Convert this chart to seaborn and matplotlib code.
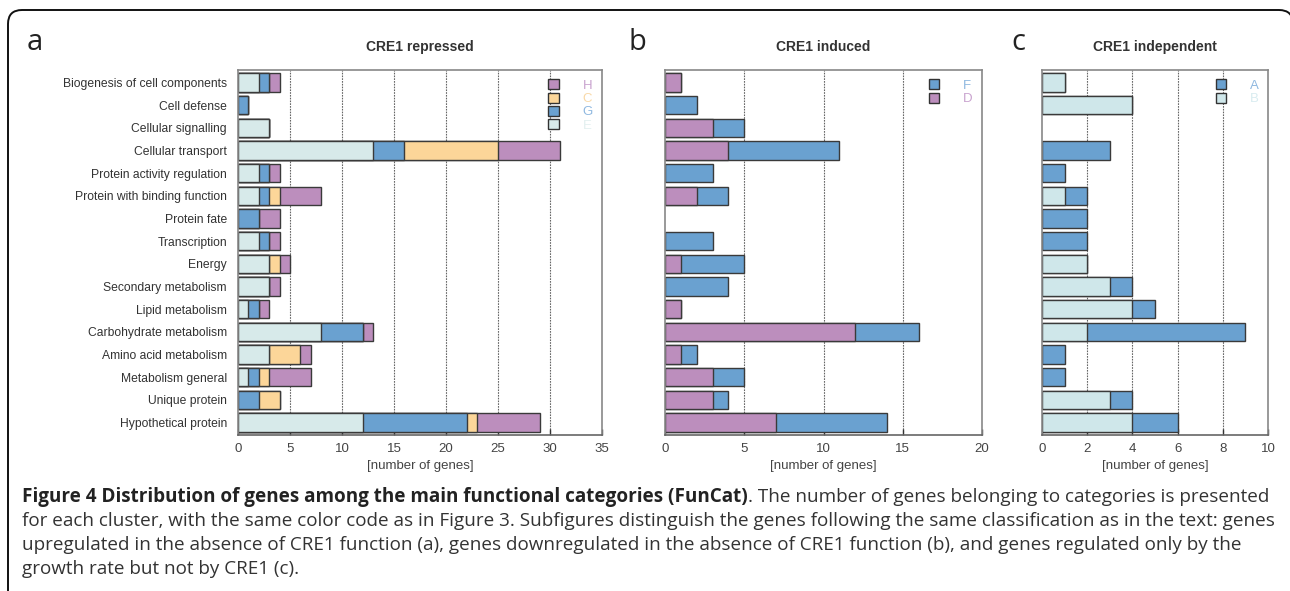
import numpy as np
import pandas as pd
import seaborn as sns
import matplotlib.pyplot as plt
from matplotlib.patches import Patch, FancyBboxPatch

# 功能类别
categories = ['Biogenesis of cell components', 'Cell defense', 'Cellular signalling',
              'Cellular transport', 'Protein activity regulation',
              'Protein with binding function', 'Protein fate', 'Transcription',
              'Energy', 'Secondary metabolism', 'Lipid metabolism',
              'Carbohydrate metabolism', 'Amino acid metabolism',
              'Metabolism general', 'Unique protein', 'Hypothetical protein']

# a: CRE1 repressed (从左到右 E, G, C, H)
rep_E = [2, 0, 3, 13, 2, 2, 0, 2, 3, 3, 1, 8, 3, 1, 0, 12]
rep_G = [1, 1, 0, 3, 1, 1, 2, 1, 0, 0, 1, 4, 0, 1, 2, 10]
rep_C = [0, 0, 0, 9, 0, 1, 0, 0, 1, 0, 0, 0, 3, 1, 2, 1]
rep_H = [1, 0, 0, 6, 1, 4, 2, 1, 1, 1, 1, 1, 1, 4, 0, 6]

# b: CRE1 induced (D, F)
ind_D = [1, 0, 3, 4, 0, 2, 0, 0, 1, 0, 1, 12, 1, 3, 3, 7]
ind_F = [0, 2, 2, 7, 3, 2, 0, 3, 4, 4, 0, 4, 1, 2, 1, 7]

# c: CRE1 independent (B, A)
indep_B = [1, 4, 0, 0, 0, 1, 0, 0, 2, 3, 4, 2, 0, 0, 3, 4]
indep_A = [0, 0, 0, 3, 1, 1, 2, 2, 0, 1, 1, 7, 1, 1, 1, 2]

col = {'E': '#d7eaea', 'G': '#6aa1d0', 'C': '#fcd699', 'H': '#bc8ebd',
       'F': '#6aa1d0', 'D': '#bc8ebd', 'A': '#6aa1d0', 'B': '#cfe7ea'}
lab_col = {'E': '#e3f0f0', 'G': '#8fb8e0', 'C': '#f9d9a8', 'H': '#c9a3cf',
           'F': '#8fb8e0', 'D': '#c9a3cf', 'A': '#8fb8e0', 'B': '#d8ecf0'}

plt.rcParams['font.family'] = ['Liberation Sans', 'DejaVu Sans']

W, H = 1290, 591
fig = plt.figure(figsize=(W / 100, H / 100), dpi=100)

# 背景坐标系（像素）
bg = fig.add_axes([0, 0, 1, 1], zorder=-10)
bg.set_xlim(0, W)
bg.set_ylim(H, 0)
bg.axis('off')
bg.add_patch(FancyBboxPatch((8, 10), 1285, 700, boxstyle='round,pad=0,rounding_size=14',
                            fc='white', ec='#111111', lw=1.4))


def px_axes(x0, x1, y0, y1):
    return fig.add_axes([x0 / W, (H - y1) / H, (x1 - x0) / W, (y1 - y0) / H])


def stacked(ax, layers, keys, xmax, step):
    # 累计值从大到小叠加绘制
    cums = np.cumsum(np.array(layers), axis=0)
    for i in range(len(layers) - 1, -1, -1):
        sns.barplot(x=cums[i], y=categories, color=col[keys[i]], width=0.82,
                    edgecolor='#3a3a3a', linewidth=1.0, saturation=1, ax=ax)
    for p in ax.patches:
        if p.get_width() == 0:
            p.set_visible(False)
    ax.set_xlim(0, xmax)
    ax.set_ylim(15.55, -0.55)
    ticks = np.arange(0, xmax + 0.1, step)
    ax.set_xticks(ticks)
    ax.set_xticklabels([f'{t:g}' for t in ticks])
    for t in ticks[1:-1]:
        ax.axvline(t, color='#666666', ls=(0, (1.5, 1)), lw=0.8, zorder=0)
    ax.tick_params(axis='x', direction='in', length=4, width=1, color='#333333',
                   labelsize=9.5, labelcolor='#444444', pad=6, top=False)
    ax.tick_params(axis='y', length=0, labelsize=8.7, labelcolor='#333333', pad=8)
    ax.set_xlabel('[number of genes]', fontsize=9.5, color='#444444', labelpad=3)
    ax.set_ylabel('')
    for s in ax.spines.values():
        s.set_color('#888888')
        s.set_linewidth(1.2)
    ax.spines['bottom'].set_color('#666666')
    ax.set_axisbelow(True)
    handles = [Patch(fc=col[k], ec='#333333', lw=1.0) for k in keys[::-1]]
    ax.legend(handles, keys[::-1], loc='upper right', frameon=False,
              labelcolor=[lab_col[k] for k in keys[::-1]], fontsize=9.5,
              handlelength=0.8, handleheight=0.8, handletextpad=1.8,
              labelspacing=0.05, borderaxespad=0.3)


ax_a = px_axes(238, 602, 70, 435)
stacked(ax_a, [rep_E, rep_G, rep_C, rep_H], ['E', 'G', 'C', 'H'], 35, 5)

ax_b = px_axes(665, 982, 70, 435)
stacked(ax_b, [ind_D, ind_F], ['D', 'F'], 20, 5)
ax_b.set_yticklabels([])

ax_c = px_axes(1042, 1268, 70, 435)
stacked(ax_c, [indep_B, indep_A], ['B', 'A'], 10, 2)
ax_c.set_yticklabels([])

# 标题和面板字母
titles = [('CRE1 repressed', 420), ('CRE1 induced', 823), ('CRE1 independent', 1155)]
for t, x in titles:
    bg.text(x, 47, t, ha='center', va='center', fontsize=10, fontweight='bold', color='#333333')
for t, x in [('a', 35), ('b', 637), ('c', 1018)]:
    bg.text(x, 42, t, ha='center', va='center', fontsize=21, color='#222222',
            family=['Open Sans', 'DejaVu Sans'])

# 图注
cap_font = ['Open Sans', 'DejaVu Sans']
fs = 13.6
bold = bg.text(22, 497, 'Figure 4 Distribution of genes among the main functional categories (FunCat)',
               fontsize=fs, fontweight='bold', family=cap_font, va='center', color='#222222')
fig.canvas.draw()
bb = bold.get_window_extent(fig.canvas.get_renderer())
x_end = bb.x1
bg.text(x_end, H - 497, '. The number of genes belonging to categories is presented',
        transform=None, fontsize=fs, family=cap_font, va='center', color='#333333')
lines = ['for each cluster, with the same color code as in Figure 3. Subfigures distinguish the genes following the same classification as in the text: genes',
         'upregulated in the absence of CRE1 function (a), genes downregulated in the absence of CRE1 function (b), and genes regulated only by the',
         'growth rate but not by CRE1 (c).']
for i, ln in enumerate(lines):
    bg.text(22, 521 + 24 * i, ln, fontsize=fs, family=cap_font, va='center', color='#333333')

plt.savefig('out.png', dpi=100)
